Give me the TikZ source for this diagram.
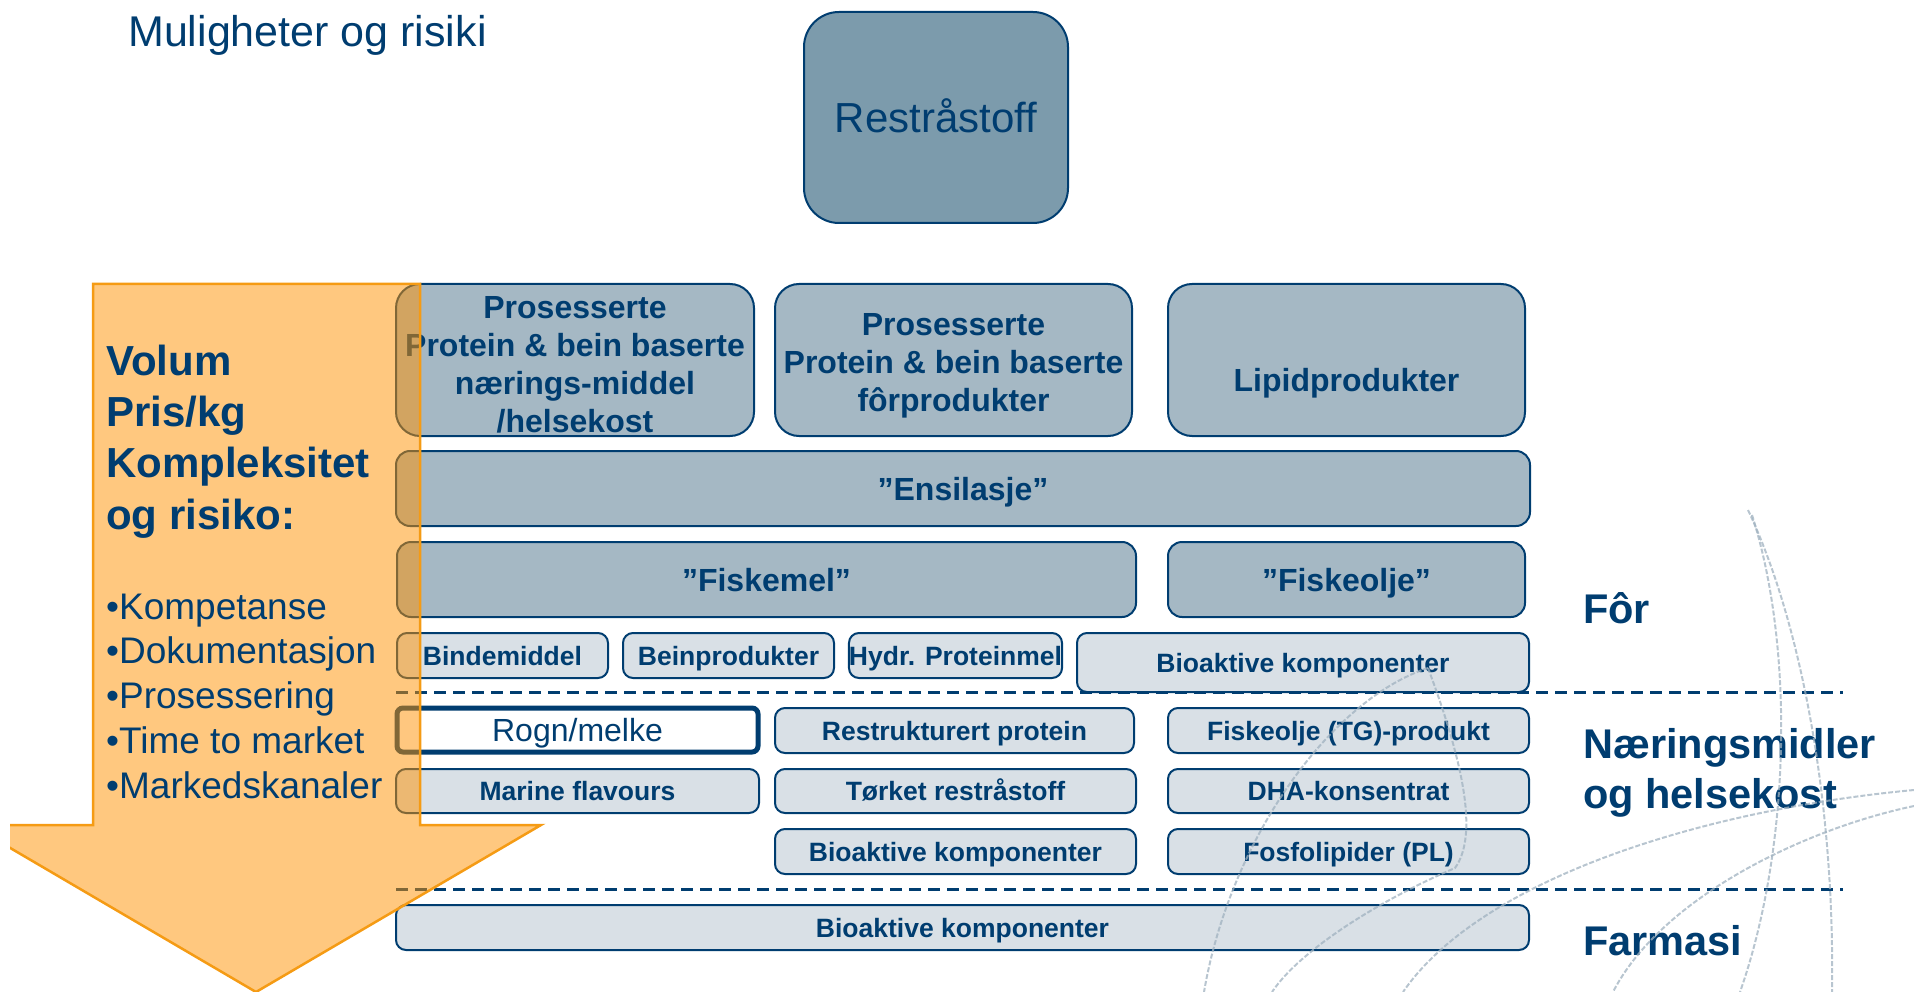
\documentclass[tikz,border=0pt]{standalone}
\usepackage{fontspec}
\setmainfont{Liberation Sans}
\definecolor{navy}{RGB}{0,61,112}
\definecolor{boxdark}{RGB}{165,184,196}
\definecolor{boxtop}{RGB}{124,155,172}
\definecolor{boxlight}{RGB}{217,224,230}
\definecolor{arroworange}{RGB}{255,145,0}
\definecolor{arrowline}{RGB}{245,155,20}
\definecolor{globe}{RGB}{160,178,192}
\begin{document}
\begin{tikzpicture}[x=1pt,y=-1pt,
  darkbox/.style={draw=navy, line width=2pt, fill=boxdark, rounded corners=24pt, text=navy,
    font=\bfseries\fontsize{32}{38}\selectfont, align=center, inner sep=0pt},
  singledark/.style={darkbox, rounded corners=14pt, text height=23pt, text depth=0pt},
  lightbox/.style={draw=navy, line width=2pt, fill=boxlight, rounded corners=10pt, text=navy,
    font=\bfseries\fontsize{26.5}{30}\selectfont, inner sep=0pt, text height=19pt, text depth=0pt},
  rognbox/.style={draw=navy, line width=5pt, fill=white, rounded corners=6pt, text=navy,
    font=\fontsize{32}{38}\selectfont, inner sep=0pt, text height=23pt, text depth=0pt},
  topbox/.style={draw=navy, line width=2pt, fill=boxtop, rounded corners=35pt, text=navy,
    font=\fontsize{42}{50}\selectfont, inner sep=0pt, text height=30pt, text depth=0pt},
  sidelabel/.style={anchor=west, text=navy, inner sep=0pt, font=\bfseries\fontsize{41.5}{49}\selectfont,
    text height=29.7pt, text depth=0pt},
  leftbig/.style={anchor=west, text=navy, inner sep=0pt, font=\bfseries\fontsize{42}{50}\selectfont,
    text height=30pt, text depth=0pt},
  leftbullet/.style={anchor=west, text=navy, inner sep=0pt, font=\fontsize{37}{44}\selectfont,
    text height=26.5pt, text depth=0pt},
  sepline/.style={draw=navy, line width=3pt, dash pattern=on 12pt off 7pt},
  globeline/.style={draw=globe, line width=2pt, dash pattern=on 5pt off 2pt, opacity=0.75},
  arrowshape/.style={draw=arrowline, line width=2.5pt, fill=arroworange, fill opacity=0.5, line join=miter}
]
\useasboundingbox (0,0) rectangle (1914,992);

% title
\node[anchor=west, text=navy, inner sep=0pt, font=\fontsize{43}{50}\selectfont,
  text height=30.8pt, text depth=0pt] (title) at (128,31.5) {Muligheter og risiki};

% top box
\node[topbox, minimum width=264, minimum height=211] (rest) at (936,117.5) {Restråstoff};

% separators
\coordinate (s1a) at (396,692); \coordinate (s1b) at (1843,692);
\coordinate (s2a) at (396,889); \coordinate (s2b) at (1843,889);
\draw[sepline] (s1a) -- (s1b);
\draw[sepline] (s2a) -- (s2b);

% row 1
\node[darkbox, minimum width=358, minimum height=152] (prota) at (575,360)
  {\rule{0pt}{31pt}Prosesserte\\Protein \& bein baserte\\nærings-middel\\/helsekost};
\node[darkbox, minimum width=357, minimum height=152] (protb) at (953.5,360)
  {\rule{0pt}{33pt}Prosesserte\\Protein \& bein baserte\\fôrprodukter};
\node[darkbox, minimum width=357, minimum height=152] (lipid) at (1346.5,360) {};
\node[text=navy, inner sep=0pt, font=\bfseries\fontsize{32}{38}\selectfont,
  text height=23pt, text depth=0pt] (lipidtxt) at (1346.5,380) {Lipidprodukter};

% row 2-3
\node[singledark, minimum width=1134, minimum height=75] (ensil) at (963,488.5) {”Ensilasje”};
\node[singledark, minimum width=739, minimum height=75] (fmel) at (766.5,579.5) {”Fiskemel”};
\node[singledark, minimum width=357, minimum height=75] (folje) at (1346.5,579.5) {”Fiskeolje”};

% row 4
\node[lightbox, minimum width=211, minimum height=45] (binde) at (502.5,655.5) {Bindemiddel};
\node[lightbox, minimum width=211, minimum height=45] (bein) at (728.5,655.5) {Beinprodukter};
\node[lightbox, minimum width=211, minimum height=45] (hydr) at (955.5,655.5) {Hydr. Proteinmel};
\node[lightbox, minimum width=452, minimum height=59] (bio1) at (1303,662.5) {Bioaktive komponenter};

% row 5
\node[rognbox, minimum width=361, minimum height=44] (rogn) at (577.5,730) {Rogn/melke};
\node[lightbox, minimum width=359, minimum height=45] (restr) at (954.5,730.5) {Restrukturert protein};
\node[lightbox, minimum width=361, minimum height=45] (tg) at (1348.5,730.5) {Fiskeolje (TG)-produkt};

% row 6
\node[lightbox, minimum width=363, minimum height=44] (marine) at (577.5,791) {Marine flavours};
\node[lightbox, minimum width=361, minimum height=44] (torket) at (955.5,791) {Tørket restråstoff};
\node[lightbox, minimum width=361, minimum height=44] (dha) at (1348.5,791) {DHA-konsentrat};

% row 7
\node[lightbox, minimum width=361, minimum height=45] (bio2) at (955.5,851.5) {Bioaktive komponenter};
\node[lightbox, minimum width=361, minimum height=45] (fosfo) at (1348.5,851.5) {Fosfolipider (PL)};

% row 8
\node[lightbox, minimum width=1133, minimum height=45] (bio3) at (962.5,927.5) {Bioaktive komponenter};

% right labels
\node[sidelabel] (lfor) at (1583,609) {Fôr};
\node[sidelabel] (lnar1) at (1583,744) {Næringsmidler};
\node[sidelabel] (lnar2) at (1583,794) {og helsekost};
\node[sidelabel] (lfarm) at (1583,941) {Farmasi};

% decorative globe lines
\draw[globeline] (1748,510) .. controls (1800,620) and (1835,800) .. (1832,992);
\draw[globeline] (1752,515) .. controls (1795,650) and (1790,850) .. (1740,992);
\draw[globeline] (1914,790) .. controls (1700,810) and (1480,880) .. (1403,992);
\draw[globeline] (1914,806) .. controls (1800,830) and (1660,900) .. (1613,992);
\draw[globeline] (1428,668) .. controls (1330,700) and (1230,840) .. (1204,992);
\draw[globeline] (1428,668) .. controls (1470,780) and (1475,840) .. (1455,868) .. controls (1380,900) and (1300,950) .. (1272,992);

% big orange arrow
\begin{scope}
\clip (10,0) rectangle (1914,992);
\draw[arrowshape] (93,284) -- (420,284) -- (420,825) -- (541,825) -- (256,992) -- (-29,825) -- (93,825) -- cycle;
\end{scope}

% arrow text
\node[leftbig] (t1) at (106,360) {Volum};
\node[leftbig] (t2) at (106,411) {Pris/kg};
\node[leftbig] (t3) at (106,462.5) {Kompleksitet};
\node[leftbig] (t4) at (106,514) {og risiko:};
\node[leftbullet] (b1) at (106,606) {•Kompetanse};
\node[leftbullet] (b2) at (106,650) {•Dokumentasjon};
\node[leftbullet] (b3) at (106,695) {•Prosessering};
\node[leftbullet] (b4) at (106,740) {•Time to market};
\node[leftbullet] (b5) at (106,785) {•Markedskanaler};
\end{tikzpicture}
\end{document}
